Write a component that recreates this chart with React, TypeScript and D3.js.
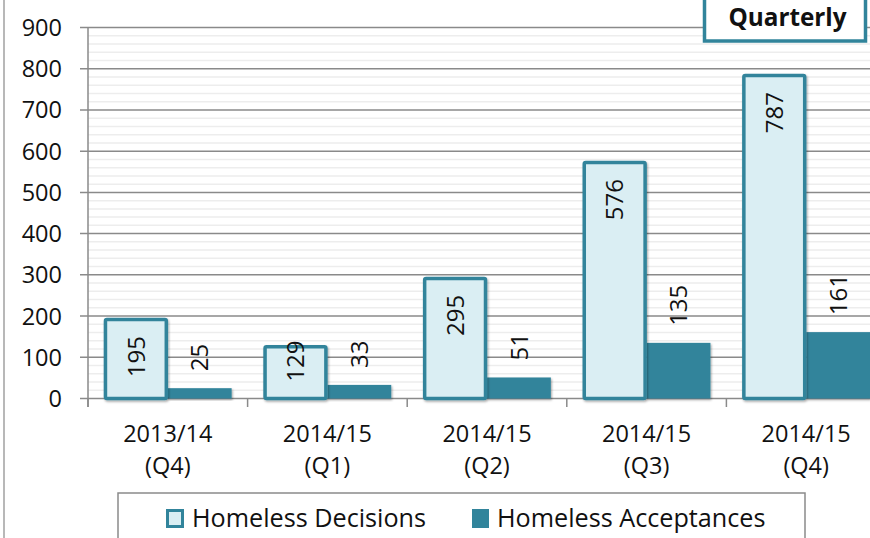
import React from 'react'
import * as d3 from 'd3'

const categories = ['2013/14|(Q4)', '2014/15|(Q1)', '2014/15|(Q2)', '2014/15|(Q3)', '2014/15|(Q4)']
const seriesNames = ['Homeless Decisions', 'Homeless Acceptances']
const decisions = [195, 129, 295, 576, 787]
const acceptances = [25, 33, 51, 135, 161]
const yTicks = [0, 100, 200, 300, 400, 500, 600, 700, 800, 900]
const minorTicks = d3.range(20, 900, 20).filter((v) => v % 100 !== 0)

const W = 870
const H = 538
const teal = '#31849b'
const pale = '#daeef3'
const font = '"Open Sans", "Noto Sans", sans-serif'

export default function App() {
	const x = d3
		.scaleBand()
		.domain(categories)
		.range([88, 886])
		.paddingInner(0.2)
		.paddingOuter(0.1)
	const xs = d3.scaleBand().domain(seriesNames).range([0, x.bandwidth()])
	const y = d3.scaleLinear().domain([0, 900]).range([398.5, 27.5])
	const step = x.step()
	const left = 88
	const right = 870
	const bounds = categories.map((_, i) => left + i * step)

	return (
		<svg
			width={W}
			height={H}
			style={{ position: 'absolute', left: 0, top: 0, background: '#fff' }}
			fontFamily={font}
		>
			<defs>
				<filter id="sh" x="-10%" y="-10%" width="130%" height="130%">
					<feDropShadow dx="1" dy="1.5" stdDeviation="1" floodColor="#000" floodOpacity="0.35" />
				</filter>
			</defs>
			<line x1={4} x2={4} y1={0} y2={H} stroke="#a0a0a0" strokeWidth={1.5} />

			{/* minor grid */}
			{minorTicks.map((t) => (
				<line key={'m' + t} x1={left} x2={right} y1={y(t)} y2={y(t)} stroke="#ededed" strokeWidth={1.5} />
			))}
			{/* major grid */}
			{yTicks.map((t) => (
				<g key={'g' + t}>
					<line x1={80} x2={right} y1={y(t)} y2={y(t)} stroke="#8a8a8a" strokeWidth={1.5} />
					<text x={62} y={y(t)} dy="0.36em" textAnchor="end" fontSize={23.5} fill="#111">
						{t}
					</text>
				</g>
			))}
			<line x1={left} x2={left} y1={y(900)} y2={407} stroke="#8a8a8a" strokeWidth={1.5} />
			{bounds.map((b, i) => (
				<line key={'t' + i} x1={b} x2={b} y1={y(0)} y2={407} stroke="#8a8a8a" strokeWidth={1.5} />
			))}

			{categories.map((c, i) => {
				const gx = x(c) as number
				const dx = gx + (xs(seriesNames[0]) as number)
				const ax = gx + (xs(seriesNames[1]) as number)
				const bw = xs.bandwidth()
				const dTop = y(decisions[i])
				const aTop = y(acceptances[i])
				const [l1, l2] = c.split('|')
				const cx = gx + x.bandwidth() / 2
				// label too long for a short bar gets pushed up past the top
				const labelLen = String(decisions[i]).length * 14
				const dStart = Math.min(dTop + 18, y(0) - 16 - labelLen)
				return (
					<g key={c}>
						<rect
							x={ax}
							y={aTop}
							width={bw}
							height={y(0) - aTop}
							fill={teal}
							filter="url(#sh)"
						/>
						<rect
							x={dx + 1.5}
							y={dTop + 1.5}
							width={bw - 3}
							height={y(0) - dTop - 1.5}
							fill={pale}
							stroke={teal}
							strokeWidth={3.5}
							rx={1.5}
							filter="url(#sh)"
						/>
						<text
							transform={`translate(${dx + bw / 2},${dStart}) rotate(-90)`}
							textAnchor="end"
							dy="0.36em"
							fontSize={24}
							fill="#111"
						>
							{decisions[i]}
						</text>
						<text
							transform={`translate(${ax + bw / 2},${aTop - 17}) rotate(-90)`}
							textAnchor="start"
							dy="0.36em"
							fontSize={24}
							fill="#111"
						>
							{acceptances[i]}
						</text>
						<text x={cx} y={442} textAnchor="middle" fontSize={23.5} fill="#111">
							{l1}
						</text>
						<text x={cx} y={474} textAnchor="middle" fontSize={23.5} fill="#111">
							{l2}
						</text>
					</g>
				)
			})}

			{/* legend */}
			<rect x={118} y={493} width={687} height={60} fill="#fff" stroke="#8a8a8a" strokeWidth={1.5} />
			<rect x={167.5} y={510.5} width={15} height={16} fill={pale} stroke={teal} strokeWidth={3} />
			<text x={192} y={527} fontSize={25.2} fill="#111">
				{seriesNames[0]}
			</text>
			<rect x={472} y={509} width={17} height={19} fill={teal} />
			<text x={497} y={527} fontSize={25.2} fill="#111">
				{seriesNames[1]}
			</text>

			{/* title box */}
			<rect x={704.5} y={-5} width={161} height={46} fill="#fff" stroke={teal} strokeWidth={3.5} />
			<text x={787.5} y={25.5} textAnchor="middle" fontSize={24.3} fontWeight="bold" fill="#111">
				Quarterly
			</text>
		</svg>
	)
}
